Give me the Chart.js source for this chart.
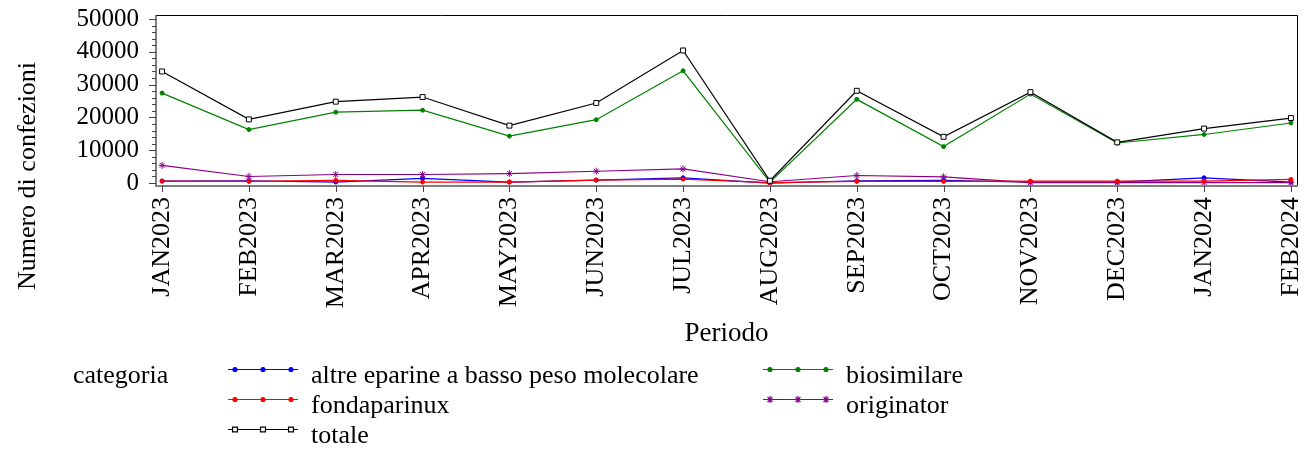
<!DOCTYPE html>
<html lang="it">
<head>
  <meta charset="UTF-8">
  <title>Numero di confezioni per periodo</title>
  <script src="https://cdn.jsdelivr.net/npm/chart.js"></script>
  <style>
    body { margin: 0; background: #fff; }
    canvas { display: block; }
  </style>
</head>
<body>
  <canvas id="graph" width="1308" height="450"></canvas>

  <script>
    // Periodi (asse x)
    const periodi = ['JAN2023', 'FEB2023', 'MAR2023', 'APR2023', 'MAY2023', 'JUN2023', 'JUL2023',
                     'AUG2023', 'SEP2023', 'OCT2023', 'NOV2023', 'DEC2023', 'JAN2024', 'FEB2024'];

    // Valori
    const altre       = [600, 700, 300, 1400, 300, 900, 1600, 0, 700, 800, 300, 300, 1600, 300];
    const biosimilare = [27400, 16300, 21600, 22200, 14300, 19300, 34200, 300, 25500, 11100, 27100, 12200, 14800, 18300];
    const fondaparinux = [600, 500, 800, 300, 300, 900, 1200, 100, 500, 500, 600, 600, 600, 1100];
    const originator  = [5400, 2000, 2600, 2600, 2900, 3600, 4300, 400, 2300, 1900, 100, 100, 150, 100];
    const totale      = [34000, 19400, 24800, 26200, 17500, 24400, 40400, 700, 28100, 14100, 27700, 12400, 16600, 19800];

    const yTicks = [0, 10000, 20000, 30000, 40000, 50000];

    const FONT = 'Liberation Serif';

    function toPoints(arr) {
      return arr.map((v, i) => ({ x: i, y: v }));
    }

    const series = [
      { label: 'altre eparine a basso peso molecolare', data: altre, color: '#0000ff', style: 'circle', r: 2, order: 3 },
      { label: 'biosimilare', data: biosimilare, color: '#008000', style: 'circle', r: 2, order: 4 },
      { label: 'fondaparinux', data: fondaparinux, color: '#ff0000', style: 'circle', r: 2, order: 1 },
      { label: 'originator', data: originator, color: '#8b008b', style: 'star', r: 3.5, order: 2 },
      { label: 'totale', data: totale, color: '#000000', style: 'rect', r: 3.5, order: 0, fill: '#ffffff' },
    ];

    // niente padding automatico: l'area del grafico resta fissa
    function noPad(s) {
      s.paddingLeft = 0;
      s.paddingRight = 0;
      s.paddingTop = 0;
      s.paddingBottom = 0;
    }

    // Cornice, tacche, titoli degli assi e legenda
    const decor = {
      id: 'decor',
      afterDraw(chart) {
        const ctx = chart.ctx;
        const a = chart.chartArea;
        const xs = chart.scales.x, ys = chart.scales.y;
        ctx.save();

        // cornice
        ctx.strokeStyle = '#000';
        ctx.lineWidth = 1;
        ctx.beginPath();
        ctx.moveTo(a.left, a.top + 0.5);
        ctx.lineTo(a.right + 0.5, a.top + 0.5);
        ctx.lineTo(a.right + 0.5, a.bottom);
        ctx.stroke();

        ctx.strokeStyle = '#555';
        ctx.lineWidth = 1.5;
        ctx.beginPath();
        ctx.moveTo(a.left, a.top);
        ctx.lineTo(a.left, a.bottom);
        ctx.stroke();

        ctx.strokeStyle = '#808080';
        ctx.lineWidth = 2;
        ctx.beginPath();
        ctx.moveTo(a.left - 1, a.bottom);
        ctx.lineTo(a.right + 1, a.bottom);
        ctx.stroke();

        // tacche asse y (maggiori e minori)
        ctx.strokeStyle = '#444';
        ctx.lineWidth = 1;
        for (let v = 0; v <= 50000; v += 2000) {
          const y = Math.round(ys.getPixelForValue(v)) + 0.5;
          const len = v % 10000 === 0 ? 7 : 4;
          ctx.beginPath();
          ctx.moveTo(a.left - len, y);
          ctx.lineTo(a.left, y);
          ctx.stroke();
        }
        // tacche asse x
        periodi.forEach((p, i) => {
          const x = Math.round(xs.getPixelForValue(i)) + 0.5;
          ctx.beginPath();
          ctx.moveTo(x, a.bottom);
          ctx.lineTo(x, a.bottom + 6);
          ctx.stroke();
        });

        // titoli assi
        ctx.fillStyle = '#000';
        ctx.font = '27px "' + FONT + '"';
        ctx.textAlign = 'center';
        ctx.textBaseline = 'alphabetic';
        ctx.fillText('Periodo', (a.left + a.right) / 2, 341);

        ctx.save();
        ctx.translate(35, 176);
        ctx.rotate(-Math.PI / 2);
        ctx.font = '26px "' + FONT + '"';
        ctx.fillText('Numero di confezioni', 0, 0);
        ctx.restore();

        // legenda
        ctx.font = '26px "' + FONT + '"';
        ctx.textAlign = 'left';
        ctx.fillText('categoria', 73, 383);

        const slots = [
          { x: 228, row: 0 }, { x: 763, row: 0 },
          { x: 228, row: 1 }, { x: 763, row: 1 },
          { x: 228, row: 2 },
        ];
        series.forEach((s, i) => {
          const sl = slots[i];
          const y = 369 + sl.row * 30;
          ctx.strokeStyle = s.color;
          ctx.lineWidth = 1.2;
          ctx.beginPath();
          ctx.moveTo(sl.x, y + 0.5);
          ctx.lineTo(sl.x + 70, y + 0.5);
          ctx.stroke();
          [7, 35, 63].forEach(dx => {
            ctx.fillStyle = s.fill || s.color;
            ctx.strokeStyle = s.color;
            Chart.helpers.drawPoint(ctx, { pointStyle: s.style, radius: s.r, rotation: 0, borderWidth: 1 }, sl.x + dx, y + 0.5);
          });
          ctx.fillStyle = '#000';
          ctx.fillText(s.label, sl.x + 83, y + 14);
        });

        ctx.restore();
      }
    };

    const ctx = document.getElementById('graph').getContext('2d');
    window.chart = new Chart(ctx, {
      type: 'line',
      data: {
        datasets: series.map(s => ({
          label: s.label,
          data: toPoints(s.data),
          borderColor: s.color,
          backgroundColor: s.fill || s.color,
          pointBorderColor: s.color,
          pointBackgroundColor: s.fill || s.color,
          borderWidth: 1.2,
          pointStyle: s.style,
          pointRadius: s.r,
          pointBorderWidth: 1,
          tension: 0,
          fill: false,
          order: s.order,
        })),
      },
      options: {
        responsive: false,
        animation: false,
        layout: { padding: { top: 15, right: 11, left: 0, bottom: 0 } },
        plugins: {
          legend: { display: false },
          tooltip: { enabled: false },
        },
        scales: {
          x: {
            type: 'linear',
            min: -0.07,
            max: 13.07,
            afterBuildTicks: s => { s.ticks = periodi.map((_, i) => ({ value: i })); },
            afterFit: s => { s.height = 264; noPad(s); },
            grid: { display: false, drawTicks: false },
            border: { display: false },
            ticks: {
              autoSkip: false,
              minRotation: 90,
              maxRotation: 90,
              padding: 11,
              color: '#000',
              font: { family: FONT, size: 26 },
              callback: v => periodi[v],
            },
          },
          y: {
            min: -900,
            max: 51200,
            afterBuildTicks: s => { s.ticks = yTicks.map(v => ({ value: v })); },
            afterFit: s => { s.width = 156; noPad(s); },
            grid: { display: false, drawTicks: false },
            border: { display: false },
            ticks: {
              autoSkip: false,
              padding: 17,
              color: '#000',
              font: { family: FONT, size: 25 },
              callback: v => String(v),
            },
          },
        },
      },
      plugins: [decor],
    });
  </script>
</body>
</html>
